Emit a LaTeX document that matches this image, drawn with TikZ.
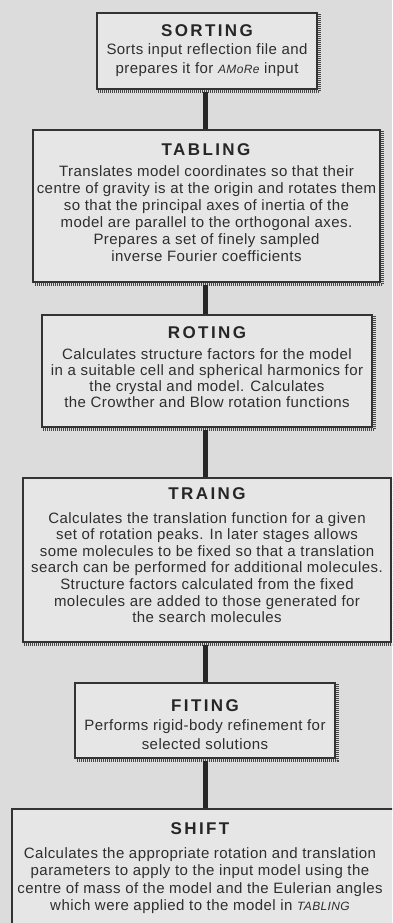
\documentclass[tikz,border=0pt]{standalone}
\usepackage{fontspec}
\setmainfont{Liberation Sans}
\newfontfamily\ttlfont[LetterSpace=14]{Liberation Sans}
\newfontfamily\bdyfont[LetterSpace=3]{Liberation Sans}
\definecolor{bgcol}{HTML}{DCDCDC}
\definecolor{boxcol}{HTML}{E6E6E6}
\definecolor{edgecol}{HTML}{333333}
\definecolor{linkcol}{HTML}{262626}
\tikzset{
  stagebox/.style={draw=edgecol, line width=1.6pt, fill=boxcol, inner sep=0pt},
  shade/.style={draw=edgecol!90, line width=2.4pt, dash pattern=on 1pt off 1pt},
  ttl/.style={anchor=base, inner sep=0pt, font=\ttlfont\bfseries\fontsize{17}{18}\selectfont, text=black!85},
  bdy/.style={anchor=north, inner sep=0pt, align=center, text=black!82},
  link/.style={draw=linkcol, line width=5pt}
}
\newcommand{\bsz}[1]{\bdyfont\fontsize{15}{#1}\selectfont}
\newcommand{\smit}[1]{{\itshape\fontsize{12}{14}\selectfont #1}}
\begin{document}
\begin{tikzpicture}[x=1pt,y=-1pt]
\useasboundingbox (0,0) rectangle (392,923);
\clip (0,0) rectangle (392,923);
\fill[bgcol] (0,0) rectangle (392,923);

% boxes
\node[stagebox, minimum width=220pt, minimum height=76pt] (sort) at (207,51) {};
\node[stagebox, minimum width=347pt, minimum height=152pt] (tabl) at (206.5,206) {};
\node[stagebox, minimum width=330pt, minimum height=112pt] (roti) at (207,371) {};
\node[stagebox, minimum width=368pt, minimum height=164pt] (trai) at (207,560) {};
\node[stagebox, minimum width=260pt, minimum height=75pt] (fiti) at (205,720.5) {};
\node[stagebox, minimum width=400pt, minimum height=140pt] (shif) at (212,879) {};

% shadows on right and bottom
\foreach \b in {sort,tabl,roti,trai,fiti}{
  \draw[shade] ([xshift=1.8pt,yshift=-2pt]\b.north east) -- ([xshift=1.8pt,yshift=-1.8pt]\b.south east) -- ([xshift=2pt,yshift=-1.8pt]\b.south west);
}

% connectors
\draw[link] ([xshift=-2pt,yshift=-2pt]sort.south) -- ([xshift=-2pt]sort.south |- tabl.north);
\draw[link] ([xshift=-1.5pt,yshift=-2pt]tabl.south) -- ([xshift=-1.5pt]tabl.south |- roti.north);
\draw[link] ([xshift=-2pt,yshift=-2pt]roti.south) -- ([xshift=-2pt]roti.south |- trai.north);
\draw[link] ([xshift=-2pt,yshift=-2pt]trai.south) -- ([xshift=-2pt]trai.south |- fiti.north);
\draw[link] ([xshift=0pt,yshift=-2pt]fiti.south) -- (fiti.south |- shif.north);

% titles
\node[ttl] (sortT) at (207,37) {SORTING};
\node[ttl] (tablT) at (206,155) {TABLING};
\node[ttl] (rotiT) at (207,338) {ROTING};
\node[ttl] (traiT) at (207,499) {TRAING};
\node[ttl] (fitiT) at (205,711) {FITING};
\node[ttl] (shifT) at (200,834) {SHIFT};

% bodies
\node[bdy, font=\bsz{19}] (sortB) at (207,43) {Sorts input reflection file and\\prepares it for \smit{AMoRe} input};
\node[bdy, font=\bsz{17}] (tablB) at (206.5,165) {Translates model coordinates so that their\\centre of gravity is at the origin and rotates them\\so that the principal axes of inertia of the\\model are parallel to the orthogonal axes.\\Prepares a set of finely sampled\\inverse Fourier coefficients};
\node[bdy, font=\bsz{16.3}] (rotiB) at (207,348) {Calculates structure factors for the model\\in a suitable cell and spherical harmonics for\\the crystal and model. Calculates\\the Crowther and Blow rotation functions};
\node[bdy, font=\bsz{16.6}] (traiB) at (207,512) {Calculates the translation function for a given\\set of rotation peaks. In later stages allows\\some molecules to be fixed so that a translation\\search can be performed for additional molecules.\\Structure factors calculated from the fixed\\molecules are added to those generated for\\the search molecules};
\node[bdy, font=\bsz{19}] (fitiB) at (205,719) {Performs rigid-body refinement for\\selected solutions};
\node[bdy, font=\bsz{17.5}] (shifB) at (200,847) {Calculates the appropriate rotation and translation\\parameters to apply to the input model using the\\centre of mass of the model and the Eulerian angles\\which were applied to the model in \smit{TABLING}};
\end{tikzpicture}
\end{document}
